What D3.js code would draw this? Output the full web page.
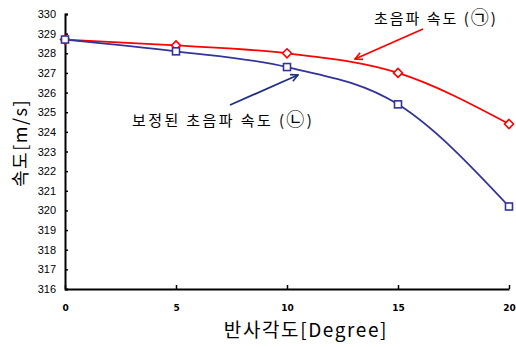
<!DOCTYPE html>
<html>
<head>
<meta charset="utf-8">
<script src="https://cdn.jsdelivr.net/npm/d3@7"></script>
<style>
  body { margin: 0; background: #fff; }
  text { font-family: "Noto Sans CJK KR", "Liberation Sans", sans-serif; }
</style>
</head>
<body>
<div id="chart"></div>
<script>
const angles = [0, 5, 10, 15, 20];
const speedRaw = [328.7, 328.4, 328.0, 327.0, 324.4];
const speedCorrected = [328.7, 328.1, 327.3, 325.4, 320.2];
const yTicks = d3.range(316, 331);
const xTicks = [0, 5, 10, 15, 20];

const W = 516, H = 347;
const margin = { top: 14, right: 7, bottom: 58, left: 65 },
      width = W - margin.left - margin.right,
      height = H - margin.top - margin.bottom;

const svg = d3.select("#chart").append("svg")
    .attr("width", W)
    .attr("height", H)
  .append("g")
    .attr("transform", `translate(${margin.left},${margin.top})`);

const x = d3.scaleLinear().domain([0, 20]).range([0, width]);
const y = d3.scaleLinear().domain([316, 330]).range([height, 0]);

// arrow heads
const defs = svg.append("defs");
[["arrRed", "#ff0000"], ["arrBlue", "#1f2f80"]].forEach(([id, c]) => {
  defs.append("marker")
      .attr("id", id)
      .attr("viewBox", "0 0 10 10")
      .attr("refX", 9).attr("refY", 5)
      .attr("markerWidth", 9).attr("markerHeight", 9)
      .attr("markerUnits", "userSpaceOnUse")
      .attr("orient", "auto")
    .append("path")
      .attr("d", "M1,1 L9,5 L1,9")
      .attr("fill", "none")
      .attr("stroke", c)
      .attr("stroke-width", 1.8);
});

// axes
const yAxis = svg.append("g")
    .call(d3.axisLeft(y).tickValues(yTicks).tickSize(-3).tickPadding(9).tickFormat(d3.format("d")));
yAxis.select(".domain").attr("stroke-width", 2);
yAxis.selectAll(".tick line").attr("stroke-width", 1.5);
yAxis.selectAll("text")
    .style("font-family", "'Liberation Sans', Arial, sans-serif")
    .style("font-size", "11px")
    .attr("fill", "#000");

const xAxis = svg.append("g")
    .attr("transform", `translate(0,${height})`)
    .call(d3.axisBottom(x).tickValues(xTicks).tickSize(-4).tickPadding(16).tickSizeOuter(0));
xAxis.select(".domain").attr("stroke-width", 2);
xAxis.selectAll(".tick line").attr("stroke-width", 1.5);
xAxis.selectAll("text")
    .style("font-family", "'DejaVu Sans', sans-serif")
    .style("font-weight", "bold")
    .style("font-size", "9px")
    .attr("fill", "#000");

// lines
const line = d3.line()
    .x((d, i) => x(angles[i]))
    .y(d => y(d))
    .curve(d3.curveMonotoneX);

svg.append("path")
    .datum(speedRaw)
    .attr("fill", "none")
    .attr("stroke", "#ff0000")
    .attr("stroke-width", 1.8)
    .attr("d", line);

svg.append("path")
    .datum(speedCorrected)
    .attr("fill", "none")
    .attr("stroke", "#333399")
    .attr("stroke-width", 1.8)
    .attr("d", line);

// markers
svg.selectAll(".diamond")
    .data(speedRaw)
  .enter().append("path")
    .attr("class", "diamond")
    .attr("transform", (d, i) => `translate(${x(angles[i])},${y(d)})`)
    .attr("d", "M0,-4.5 L4.5,0 L0,4.5 L-4.5,0 Z")
    .attr("fill", "#fff")
    .attr("stroke", "#ff0000")
    .attr("stroke-width", 1.6);

svg.selectAll(".square")
    .data(speedCorrected)
  .enter().append("rect")
    .attr("class", "square")
    .attr("x", (d, i) => x(angles[i]) - 3.5)
    .attr("y", d => y(d) - 3.5)
    .attr("width", 7)
    .attr("height", 7)
    .attr("fill", "#fff")
    .attr("stroke", "#333399")
    .attr("stroke-width", 1.6);

// annotations
const note1 = svg.append("text")
    .attr("x", 374 - margin.left)
    .attr("y", 24 - margin.top)
    .style("font-size", "15px")
    .style("letter-spacing", "2px")
    .attr("fill", "#000");
note1.append("tspan").text("초음파 속도 (");
note1.append("tspan").style("font-size", "18px").text("㉠");
note1.append("tspan").text(")");

svg.append("line")
    .attr("x1", 423 - margin.left).attr("y1", 29 - margin.top)
    .attr("x2", 355 - margin.left).attr("y2", 59 - margin.top)
    .attr("stroke", "#ff0000")
    .attr("stroke-width", 1.8)
    .attr("marker-end", "url(#arrRed)");

const note2 = svg.append("text")
    .attr("x", 132 - margin.left)
    .attr("y", 126 - margin.top)
    .style("font-size", "15px")
    .style("letter-spacing", "2.4px")
    .attr("fill", "#000");
note2.append("tspan").text("보정된 초음파 속도 (");
note2.append("tspan").style("font-size", "18px").text("㉡");
note2.append("tspan").text(")");

svg.append("line")
    .attr("x1", 230 - margin.left).attr("y1", 105 - margin.top)
    .attr("x2", 298 - margin.left).attr("y2", 75 - margin.top)
    .attr("stroke", "#1f2f80")
    .attr("stroke-width", 1.8)
    .attr("marker-end", "url(#arrBlue)");

// axis titles
svg.append("text")
    .attr("transform", "rotate(-90)")
    .attr("x", -(143 - margin.top))
    .attr("y", 27 - margin.left)
    .style("text-anchor", "middle")
    .style("font-size", "18px")
    .style("letter-spacing", "1.5px")
    .attr("fill", "#000")
    .text("속도[m/s]");

svg.append("text")
    .attr("x", 306 - margin.left)
    .attr("y", 337 - margin.top)
    .style("text-anchor", "middle")
    .style("font-size", "19px")
    .style("letter-spacing", "1.6px")
    .attr("fill", "#000")
    .text("반사각도[Degree]");
</script>
</body>
</html>
